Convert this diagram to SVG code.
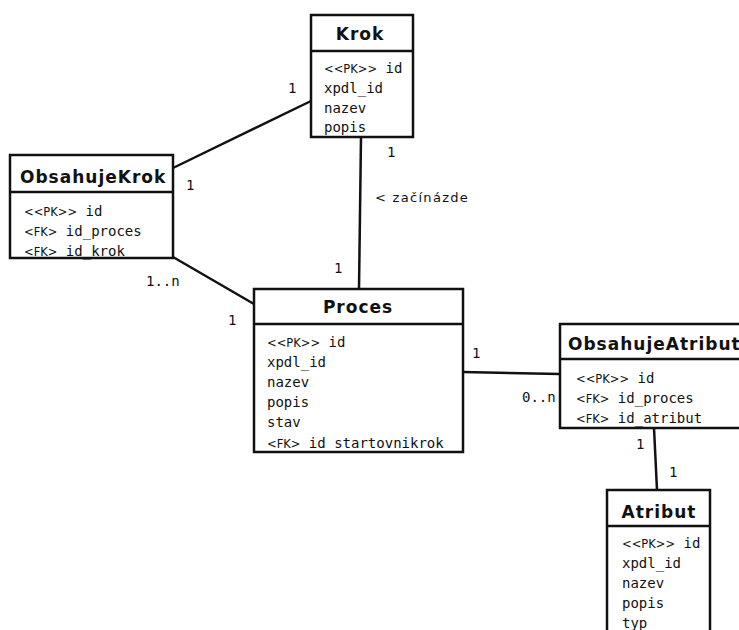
<svg xmlns="http://www.w3.org/2000/svg" width="739" height="630" viewBox="0 0 739 630">
<style>
.box{fill:#fff;stroke:#111;stroke-width:2.5}
.sep{stroke:#111;stroke-width:2.5}
.title{font-family:"DejaVu Sans",sans-serif;font-weight:bold;font-size:17px;letter-spacing:1px;fill:#111}
.attr{font-family:"DejaVu Sans Mono",monospace;font-size:14px;fill:#111}
.tag{font-family:"DejaVu Sans",sans-serif;font-size:11.5px}
.mult{font-family:"DejaVu Sans Mono",monospace;font-size:14px;fill:#111}
.lbl{font-family:"DejaVu Sans",sans-serif;font-size:13px;letter-spacing:1.3px;fill:#111}
.conn{stroke:#111;stroke-width:2.5;fill:none}
</style>
<rect width="739" height="630" fill="#fff"/>
<g id="connectors">
<line class="conn" x1="311" y1="101" x2="173" y2="168"/>
<line class="conn" x1="361" y1="137" x2="359" y2="289"/>
<line class="conn" x1="173" y1="257" x2="254" y2="304"/>
<line class="conn" x1="463" y1="372" x2="560" y2="374"/>
<line class="conn" x1="654" y1="428" x2="657" y2="490"/>
<text class="mult" x="288" y="93">1</text>
<text class="mult" x="186" y="190">1</text>
<text class="mult" x="387" y="157">1</text>
<text class="lbl" x="375" y="202">&lt; začínázde</text>
<text class="mult" x="334" y="273">1</text>
<text class="mult" x="146" y="286">1..n</text>
<text class="mult" x="228" y="325">1</text>
<text class="mult" x="472" y="358">1</text>
<text class="mult" x="522" y="402">0..n</text>
<text class="mult" x="636" y="449">1</text>
<text class="mult" x="669" y="477">1</text>
</g>
<g id="Krok">
<rect class="box" x="311" y="15" width="102" height="122"/>
<line class="sep" x1="311" y1="51" x2="413" y2="51"/>
<text class="title" x="360" y="40" text-anchor="middle">Krok</text>
<text class="attr" x="324" y="73"><tspan class="tag">&lt;&lt;PK&gt;&gt;</tspan> id</text>
<text class="attr" x="324" y="93">xpdl_id</text>
<text class="attr" x="324" y="113">nazev</text>
<text class="attr" x="324" y="132">popis</text>
</g>
<g id="ObsahujeKrok">
<rect class="box" x="10" y="155" width="163" height="103"/>
<line class="sep" x1="10" y1="192" x2="173" y2="192"/>
<text class="title" x="20" y="183">ObsahujeKrok</text>
<text class="attr" x="24" y="216"><tspan class="tag">&lt;&lt;PK&gt;&gt;</tspan> id</text>
<text class="attr" x="24" y="236"><tspan class="tag">&lt;FK&gt;</tspan> id_proces</text>
<text class="attr" x="24" y="256"><tspan class="tag">&lt;FK&gt;</tspan> id_krok</text>
</g>
<g id="Proces">
<rect class="box" x="254" y="289" width="209" height="163"/>
<line class="sep" x1="254" y1="324" x2="463" y2="324"/>
<text class="title" x="358" y="313" text-anchor="middle">Proces</text>
<text class="attr" x="267" y="347"><tspan class="tag">&lt;&lt;PK&gt;&gt;</tspan> id</text>
<text class="attr" x="267" y="367">xpdl_id</text>
<text class="attr" x="267" y="387">nazev</text>
<text class="attr" x="267" y="407">popis</text>
<text class="attr" x="267" y="427">stav</text>
<text class="attr" x="267" y="448"><tspan class="tag">&lt;FK&gt;</tspan> id_startovnikrok</text>
</g>
<g id="ObsahujeAtribut">
<rect class="box" x="560" y="324" width="190" height="104"/>
<line class="sep" x1="560" y1="359" x2="750" y2="359"/>
<text class="title" x="568" y="350">ObsahujeAtribut</text>
<text class="attr" x="576" y="383"><tspan class="tag">&lt;&lt;PK&gt;&gt;</tspan> id</text>
<text class="attr" x="576" y="403"><tspan class="tag">&lt;FK&gt;</tspan> id_proces</text>
<text class="attr" x="576" y="423"><tspan class="tag">&lt;FK&gt;</tspan> id_atribut</text>
</g>
<g id="Atribut">
<rect class="box" x="607" y="490" width="103" height="150"/>
<line class="sep" x1="607" y1="526" x2="710" y2="526"/>
<text class="title" x="659" y="518" text-anchor="middle">Atribut</text>
<text class="attr" x="622" y="548"><tspan class="tag">&lt;&lt;PK&gt;&gt;</tspan> id</text>
<text class="attr" x="622" y="568">xpdl_id</text>
<text class="attr" x="622" y="588">nazev</text>
<text class="attr" x="622" y="608">popis</text>
<text class="attr" x="622" y="628">typ</text>
</g>
</svg>
